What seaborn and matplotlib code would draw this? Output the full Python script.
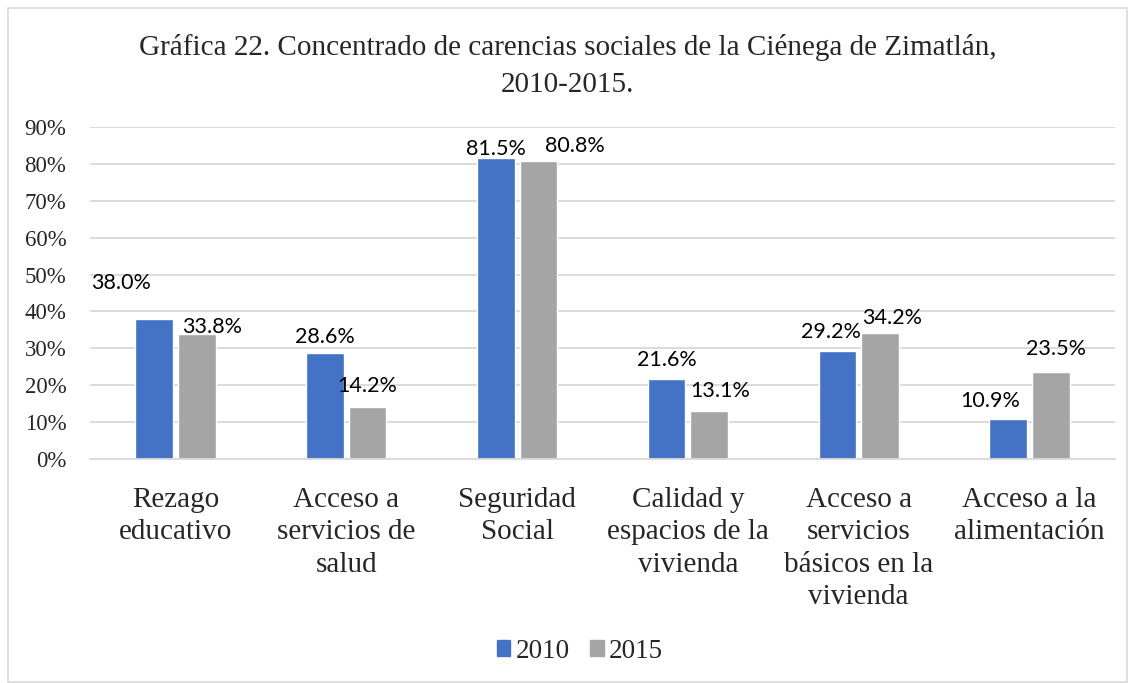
import matplotlib
matplotlib.use("Agg")
import matplotlib.pyplot as plt
import matplotlib.patches as mpatches
import seaborn as sns
import pandas as pd
import numpy as np

categories = ["Rezago\neducativo", "Acceso a\nservicios de\nsalud", "Seguridad\nSocial",
              "Calidad y\nespacios de la\nvivienda", "Acceso a\nservicios\nbásicos en la\nvivienda",
              "Acceso a la\nalimentación"]
years = ["2010", "2015"]
values_2010 = [38.0, 28.6, 81.5, 21.6, 29.2, 10.9]
values_2015 = [33.8, 14.2, 80.8, 13.1, 34.2, 23.5]
yticks = [0, 10, 20, 30, 40, 50, 60, 70, 80, 90]
title = "Gráfica 22. Concentrado de carencias sociales de la Ciénega de Zimatlán,\n2010-2015."

# label nudges (points) to mimic the reference's label placement
nudge_2010 = [(-24, 13), (0, -1), (0, -6), (0, 1), (-5, 1), (-13, 0)]
nudge_2015 = [(11, -8), (0, 2), (26, -2), (8, 1), (9, -2), (4, 4)]

df = pd.DataFrame({
    "cat": categories * 2,
    "year": [years[0]] * 6 + [years[1]] * 6,
    "val": values_2010 + values_2015,
})

sns.set_theme(style="white")
serif = ["Liberation Serif", "DejaVu Serif"]
sans = ["Lato", "DejaVu Sans"]

fig = plt.figure(figsize=(11.35, 6.83), dpi=100)
ax = fig.add_axes([90 / 1135, 1 - 459 / 683, (1115 - 90) / 1135, (459 - 127) / 683])

palette = {"2010": "#4472C4", "2015": "#A5A5A5"}
sns.barplot(data=df, x="cat", y="val", hue="year", palette=palette, ax=ax,
            width=0.5, gap=0.12, saturation=1, legend=False)

ax.set_ylim(0, 90)
ax.set_yticks(yticks)
ax.set_yticklabels([f"{t}%" for t in yticks], family=serif, fontsize=16.5)
ax.set_xlabel("")
ax.set_ylabel("")
ax.tick_params(axis="both", length=0)
ax.tick_params(axis="y", pad=17)
ax.set_xticklabels(categories, family=serif, fontsize=21, linespacing=1.32, va="top")
ax.tick_params(axis="x", pad=20)
ax.grid(axis="y", color="#D9D9D9", linewidth=1.3)
ax.set_axisbelow(True)
for s in ["top", "right", "left"]:
    ax.spines[s].set_visible(False)
ax.spines["bottom"].set_color("#D9D9D9")
ax.spines["bottom"].set_linewidth(1.3)
ax.set_xlim(-0.5, 5.5)

for container, nudges in zip(ax.containers, [nudge_2010, nudge_2015]):
    for bar, (dx, dy) in zip(container, nudges):
        h = bar.get_height()
        ax.annotate(f"{h:.1f}%", (bar.get_x() + bar.get_width() / 2, h),
                    xytext=(dx, 13 + dy), textcoords="offset points",
                    ha="center", va="center", family=sans, fontsize=15.5, color="#000000")

fig.text(0.5, 1 - 66 / 683, title, ha="center", va="center", family=serif,
         fontsize=21, linespacing=1.52)

handles = [mpatches.Patch(color=palette[y], label=y) for y in years]
fig.legend(handles=handles, loc="center", bbox_to_anchor=(580 / 1135, 1 - 651 / 683), ncol=2,
           frameon=False, prop={"family": serif, "size": 19.5}, handlelength=0.5,
           handleheight=0.5, handletextpad=0.2, columnspacing=0.75)

fig.patches.append(mpatches.Rectangle((8 / 1135, 0.002), 1 - 16 / 1135, 1 - 8 / 683 - 0.002,
                                      transform=fig.transFigure, fill=False,
                                      edgecolor="#D9D9D9", linewidth=1.2))

fig.savefig("out.png", dpi=100)
